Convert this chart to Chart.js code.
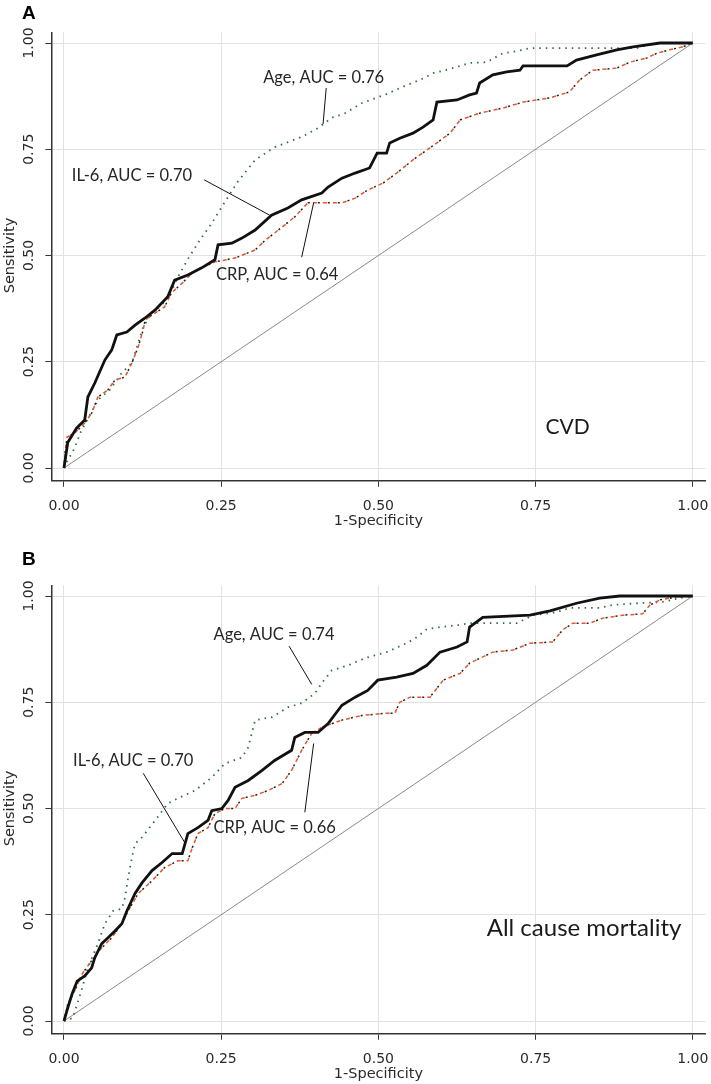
<!DOCTYPE html>
<html>
<head>
<meta charset="utf-8">
<script src="https://cdn.jsdelivr.net/npm/chart.js@4.4.0/dist/chart.umd.min.js"></script>
<style>
  body { margin: 0; background: #fff; }
  .panel { position: absolute; left: 0; }
</style>
</head>
<body>
<canvas id="chartA" class="panel" width="711" height="540" style="top:0px"></canvas>
<canvas id="chartB" class="panel" width="711" height="544" style="top:540px"></canvas>
<script>
// axis ticks shared by both panels
const tickValues = [0, 0.25, 0.5, 0.75, 1];
const diagonal = [[0, 0], [1, 1]];

// panel A - CVD
const il6A = [[0,0],[0.003,0.03],[0.006,0.06],[0.02,0.094],[0.033,0.113],[0.038,0.167],[0.049,0.2],[0.065,0.254],[0.076,0.278],[0.084,0.313],[0.1,0.32],[0.113,0.336],[0.129,0.353],[0.145,0.372],[0.165,0.403],[0.176,0.442],[0.197,0.454],[0.219,0.471],[0.24,0.49],[0.245,0.525],[0.267,0.529],[0.283,0.541],[0.304,0.56],[0.33,0.595],[0.356,0.612],[0.378,0.631],[0.41,0.647],[0.42,0.661],[0.442,0.682],[0.463,0.694],[0.486,0.706],[0.498,0.741],[0.513,0.741],[0.518,0.765],[0.534,0.776],[0.555,0.788],[0.571,0.802],[0.587,0.819],[0.593,0.861],[0.625,0.866],[0.645,0.878],[0.656,0.882],[0.661,0.906],[0.682,0.925],[0.704,0.932],[0.725,0.936],[0.73,0.946],[0.8,0.946],[0.815,0.96],[0.847,0.972],[0.879,0.984],[0.905,0.991],[0.948,1],[1,1]];
const crpA = [[0,0],[0.002,0.04],[0.005,0.073],[0.017,0.082],[0.033,0.106],[0.044,0.129],[0.054,0.167],[0.07,0.184],[0.081,0.207],[0.097,0.214],[0.108,0.247],[0.118,0.285],[0.126,0.325],[0.129,0.348],[0.14,0.36],[0.16,0.379],[0.171,0.412],[0.188,0.435],[0.204,0.459],[0.219,0.471],[0.24,0.485],[0.272,0.494],[0.304,0.513],[0.32,0.536],[0.347,0.567],[0.367,0.591],[0.388,0.624],[0.442,0.624],[0.463,0.635],[0.483,0.654],[0.508,0.671],[0.529,0.694],[0.555,0.725],[0.593,0.765],[0.614,0.788],[0.63,0.819],[0.661,0.835],[0.698,0.847],[0.73,0.861],[0.773,0.871],[0.804,0.885],[0.82,0.913],[0.841,0.936],[0.879,0.941],[0.9,0.955],[0.927,0.965],[0.943,0.976],[0.963,0.984],[0.984,0.991],[1,1]];
const ageA = [[0,0],[0.006,0.02],[0.013,0.035],[0.022,0.066],[0.025,0.08],[0.054,0.16],[0.073,0.184],[0.092,0.224],[0.108,0.247],[0.118,0.294],[0.126,0.332],[0.14,0.365],[0.156,0.384],[0.172,0.419],[0.181,0.449],[0.196,0.489],[0.216,0.536],[0.235,0.576],[0.261,0.638],[0.275,0.671],[0.291,0.701],[0.304,0.725],[0.335,0.755],[0.378,0.779],[0.404,0.8],[0.426,0.824],[0.447,0.835],[0.474,0.859],[0.51,0.878],[0.545,0.901],[0.566,0.913],[0.587,0.929],[0.614,0.939],[0.645,0.953],[0.672,0.955],[0.698,0.976],[0.72,0.981],[0.741,0.988],[0.911,0.988],[0.927,0.995],[0.95,1],[1,1]];

// panel B - all cause mortality
const il6B = [[0,0],[0.006,0.031],[0.013,0.064],[0.021,0.094],[0.033,0.106],[0.044,0.125],[0.049,0.149],[0.06,0.182],[0.07,0.196],[0.081,0.212],[0.092,0.229],[0.1,0.259],[0.113,0.3],[0.124,0.325],[0.14,0.354],[0.156,0.373],[0.172,0.394],[0.188,0.394],[0.197,0.441],[0.213,0.455],[0.229,0.472],[0.235,0.495],[0.251,0.5],[0.261,0.519],[0.272,0.55],[0.293,0.566],[0.315,0.59],[0.335,0.613],[0.362,0.637],[0.367,0.667],[0.383,0.679],[0.404,0.679],[0.42,0.7],[0.442,0.743],[0.463,0.762],[0.483,0.778],[0.499,0.802],[0.529,0.809],[0.555,0.818],[0.577,0.837],[0.598,0.868],[0.625,0.88],[0.641,0.892],[0.645,0.927],[0.666,0.95],[0.741,0.955],[0.773,0.965],[0.815,0.983],[0.852,0.995],[0.884,1],[1,1]];
const crpB = [[0,0],[0.006,0.04],[0.017,0.071],[0.029,0.111],[0.044,0.142],[0.06,0.172],[0.076,0.196],[0.092,0.229],[0.102,0.259],[0.118,0.3],[0.14,0.33],[0.16,0.361],[0.181,0.377],[0.197,0.377],[0.204,0.408],[0.213,0.441],[0.229,0.455],[0.24,0.488],[0.256,0.5],[0.272,0.5],[0.283,0.524],[0.304,0.531],[0.324,0.542],[0.347,0.559],[0.362,0.59],[0.378,0.637],[0.394,0.677],[0.41,0.691],[0.442,0.708],[0.474,0.719],[0.51,0.724],[0.526,0.724],[0.534,0.75],[0.55,0.762],[0.582,0.762],[0.603,0.802],[0.63,0.818],[0.645,0.842],[0.682,0.868],[0.714,0.873],[0.741,0.889],[0.777,0.892],[0.793,0.92],[0.809,0.936],[0.836,0.936],[0.857,0.948],[0.889,0.955],[0.92,0.958],[0.932,0.979],[0.948,0.991],[0.975,0.998],[1,1]];
const ageB = [[0,0],[0.014,0.007],[0.021,0.04],[0.029,0.078],[0.038,0.125],[0.054,0.182],[0.065,0.229],[0.078,0.259],[0.092,0.264],[0.097,0.29],[0.102,0.337],[0.108,0.384],[0.113,0.417],[0.124,0.432],[0.145,0.472],[0.165,0.512],[0.184,0.526],[0.208,0.542],[0.235,0.573],[0.256,0.606],[0.283,0.62],[0.293,0.644],[0.304,0.708],[0.331,0.715],[0.356,0.738],[0.378,0.748],[0.399,0.771],[0.41,0.795],[0.426,0.825],[0.452,0.837],[0.479,0.854],[0.513,0.868],[0.545,0.889],[0.561,0.903],[0.577,0.922],[0.598,0.927],[0.63,0.932],[0.645,0.936],[0.72,0.936],[0.746,0.955],[0.784,0.962],[0.804,0.972],[0.852,0.972],[0.873,0.979],[0.911,0.983],[0.952,0.986],[0.979,0.995],[1,1]];

// labels, with leader lines, in data units
const notesA = [
  { text: "Age, AUC = 0.76", x: 0.413, y: 0.918, from: [0.417, 0.894], to: [0.412, 0.809] },
  { text: "IL-6, AUC = 0.70", x: 0.108, y: 0.689, from: [0.223, 0.678], to: [0.327, 0.595] },
  { text: "CRP, AUC = 0.64", x: 0.339, y: 0.456, from: [0.378, 0.496], to: [0.397, 0.624] }
];
const notesB = [
  { text: "Age, AUC = 0.74", x: 0.334, y: 0.91, from: [0.358, 0.882], to: [0.394, 0.792] },
  { text: "IL-6, AUC = 0.70", x: 0.11, y: 0.613, from: [0.126, 0.583], to: [0.192, 0.42] },
  { text: "CRP, AUC = 0.66", x: 0.335, y: 0.455, from: [0.383, 0.491], to: [0.397, 0.653] }
];

function pts(arr) {
  return arr.map(p => ({ x: p[0], y: p[1] }));
}

const panelText = {
  id: 'panelText',
  afterDraw(chart, args, opts) {
    const ctx = chart.ctx;
    const xs = chart.scales.x, ys = chart.scales.y;
    ctx.save();

    // rotated y tick labels
    ctx.fillStyle = '#2a2a2a';
    ctx.font = '14px "DejaVu Sans"';
    ctx.textAlign = 'center';
    ctx.textBaseline = 'middle';
    tickValues.forEach(v => {
      ctx.save();
      ctx.translate(29, ys.getPixelForValue(v));
      ctx.rotate(-Math.PI / 2);
      ctx.fillText(v.toFixed(2), 0, 0);
      ctx.restore();
    });

    // axis titles
    ctx.font = '14.5px "DejaVu Sans"';
    ctx.save();
    ctx.translate(10, ys.getPixelForValue(0.5));
    ctx.rotate(-Math.PI / 2);
    ctx.fillText('Sensitivity', 0, 0);
    ctx.restore();
    ctx.fillText('1-Specificity', xs.getPixelForValue(0.5), chart.chartArea.bottom + 40);

    // panel letter
    ctx.fillStyle = '#000';
    ctx.font = 'bold 19px "Liberation Sans"';
    ctx.textAlign = 'left';
    ctx.textBaseline = 'alphabetic';
    ctx.fillText(opts.letter, 22, opts.letterY);

    // curve labels and leaders
    ctx.fillStyle = '#262626';
    ctx.strokeStyle = '#111';
    ctx.lineWidth = 1;
    ctx.font = '16.5px Lato';
    ctx.textAlign = 'center';
    ctx.textBaseline = 'middle';
    opts.notes.forEach(n => {
      ctx.fillText(n.text, xs.getPixelForValue(n.x), ys.getPixelForValue(n.y));
      ctx.beginPath();
      ctx.moveTo(xs.getPixelForValue(n.from[0]), ys.getPixelForValue(n.from[1]));
      ctx.lineTo(xs.getPixelForValue(n.to[0]), ys.getPixelForValue(n.to[1]));
      ctx.stroke();
    });

    ctx.fillStyle = '#1a1a1a';
    ctx.font = opts.captionSize + 'px Lato';
    ctx.fillText(opts.caption, xs.getPixelForValue(opts.captionX), ys.getPixelForValue(opts.captionY));
    ctx.restore();
  }
};

function makeChart(id, il6, crp, age, text, topPad, height) {
  const bottom = topPad + 448.35;
  return new Chart(document.getElementById(id), {
    type: 'scatter',
    data: {
      datasets: [
        { label: 'IL-6', data: pts(il6), showLine: true, borderColor: '#111', borderWidth: 2.8, pointRadius: 0, order: 0 },
        { label: 'CRP', data: pts(crp), showLine: true, borderColor: '#222', borderWidth: 1.5, borderDash: [2, 8], borderDashOffset: -5, pointRadius: 0, order: 1 },
        { label: 'CRP', data: pts(crp), showLine: true, borderColor: '#e2572b', borderWidth: 1.5, borderDash: [4, 6], pointRadius: 0, order: 2 },
        { label: 'Age', data: pts(age), showLine: true, borderColor: '#2d6e36', borderWidth: 1.8, borderDash: [1.5, 5], pointRadius: 0, order: 3 },
        { label: 'Reference', data: pts(diagonal), showLine: true, borderColor: '#8a8a8a', borderWidth: 1, pointRadius: 0, order: 4 }
      ]
    },
    options: {
      responsive: false,
      animation: false,
      layout: { padding: { top: topPad, right: 5.6, left: 0, bottom: 0 } },
      plugins: {
        legend: { display: false },
        tooltip: { enabled: false },
        panelText: text
      },
      scales: {
        x: {
          type: 'linear',
          min: -0.02,
          max: 1.02,
          afterBuildTicks: s => { s.ticks = tickValues.map(v => ({ value: v })); },
          afterFit: s => { s.height = height - bottom; s.paddingLeft = 0; s.paddingRight = 0; },
          ticks: { color: '#2a2a2a', font: { family: 'DejaVu Sans', size: 14 }, padding: 11, callback: v => v.toFixed(2) },
          grid: { color: '#e2e2e2', lineWidth: 1, tickColor: '#333', tickLength: 6 },
          border: { color: '#333', width: 1.5 }
        },
        y: {
          type: 'linear',
          min: -0.03,
          max: 1.025,
          afterBuildTicks: s => { s.ticks = tickValues.map(v => ({ value: v })); },
          afterFit: s => { s.width = 51.4; s.paddingTop = 0; s.paddingBottom = 0; },
          ticks: { display: false },
          grid: { color: '#e2e2e2', lineWidth: 1, tickColor: '#333', tickLength: 6 },
          border: { color: '#333', width: 1.5 }
        }
      }
    },
    plugins: [panelText]
  });
}

makeChart('chartA', il6A, crpA, ageA,
  { letter: 'A', letterY: 19, notes: notesA, caption: 'CVD', captionSize: 21, captionX: 0.801, captionY: 0.096 },
  32.4, 540);
makeChart('chartB', il6B, crpB, ageB,
  { letter: 'B', letterY: 25, notes: notesB, caption: 'All cause mortality', captionSize: 24, captionX: 0.827, captionY: 0.219 },
  45.4, 544);
</script>
</body>
</html>
